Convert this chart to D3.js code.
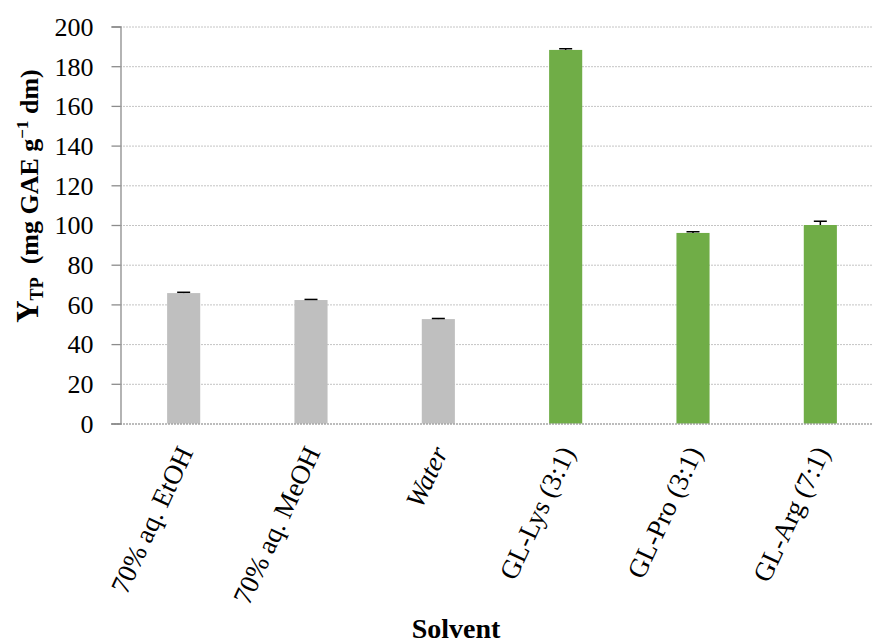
<!DOCTYPE html>
<html>
<head>
<meta charset="utf-8">
<script src="https://cdn.jsdelivr.net/npm/d3@7"></script>
<style>
  html, body { margin: 0; padding: 0; background: #fff; }
  svg { display: block; }
  text { font-family: "Liberation Serif", "Times New Roman", serif; fill: #000; }
</style>
</head>
<body>
<svg id="chart" width="872" height="644"></svg>
<script>
// Total phenolic yield by extraction solvent
const solvents = ["70% aq. EtOH", "70% aq. MeOH", "Water", "GL-Lys (3:1)", "GL-Pro (3:1)", "GL-Arg (7:1)"];
const yieldTP = [65.7, 62.2, 52.6, 188.2, 96.0, 100.0];
const yieldErr = [0.4, 0.3, 0.3, 0.6, 0.6, 1.9];
const solventGroup = ["conventional", "conventional", "conventional", "deep", "deep", "deep"];
const yTicks = [0, 20, 40, 60, 80, 100, 120, 140, 160, 180, 200];

const groupColor = { conventional: "#bfbfbf", deep: "#70ad47" };

const svg = d3.select("#chart");
const plotL = 120, plotR = 884, plotT = 26.5, plotB = 423.5;

const x = d3.scaleBand().domain(solvents).range([plotL, plotR]).paddingInner(0.74).paddingOuter(0.37);
const y = d3.scaleLinear().domain([0, 200]).range([plotB, plotT]);

// Horizontal dotted gridlines
svg.append("g")
  .selectAll("line")
  .data(yTicks.filter(d => d > 0))
  .join("line")
  .attr("x1", plotL).attr("x2", plotR)
  .attr("y1", d => y(d) + 0.5).attr("y2", d => y(d) + 0.5)
  .attr("stroke", "#c4c4c4")
  .attr("stroke-width", 1)
  .attr("stroke-dasharray", "2,1");

// Bars
svg.append("g")
  .selectAll("rect")
  .data(solvents)
  .join("rect")
  .attr("x", d => x(d))
  .attr("width", x.bandwidth())
  .attr("y", (d, i) => y(yieldTP[i]))
  .attr("height", (d, i) => y(0) - y(yieldTP[i]))
  .attr("fill", (d, i) => groupColor[solventGroup[i]]);

// Error bars (upper)
const eb = svg.append("g").attr("stroke", "#000").attr("stroke-width", 1.5);
solvents.forEach((s, i) => {
  const cx = x(s) + x.bandwidth() / 2;
  eb.append("line")
    .attr("x1", cx).attr("x2", cx)
    .attr("y1", y(yieldTP[i])).attr("y2", y(yieldTP[i] + yieldErr[i]));
  eb.append("line")
    .attr("x1", cx - 6.5).attr("x2", cx + 6.5)
    .attr("y1", y(yieldTP[i] + yieldErr[i])).attr("y2", y(yieldTP[i] + yieldErr[i]));
});

// Baseline (category axis)
svg.append("line")
  .attr("x1", plotL - 9).attr("x2", plotR)
  .attr("y1", y(0) + 0.5).attr("y2", y(0) + 0.5)
  .attr("stroke", "#7a7a7a")
  .attr("stroke-width", 1.2)
  .attr("stroke-dasharray", "2,1");

// Value axis
const yAxis = svg.append("g")
  .attr("transform", `translate(${plotL + 0.5},0)`)
  .call(d3.axisLeft(y).tickValues(yTicks).tickSize(9).tickPadding(18).tickFormat(d3.format("d")));
yAxis.select(".domain").attr("stroke", "#8c8c8c").attr("stroke-width", 1.3);
yAxis.selectAll(".tick line").attr("stroke", "#8c8c8c").attr("stroke-width", 1.3);
yAxis.selectAll(".tick text")
  .attr("font-size", 26)
  .attr("font-family", "Liberation Serif, serif")
  .attr("fill", "#000")
  .attr("dy", "0.34em");

// Category labels, rotated
svg.append("g")
  .selectAll("text")
  .data(solvents)
  .join("text")
  .attr("transform", d => `translate(${x(d) + x.bandwidth() / 2 + 10},452) rotate(-65)`)
  .attr("text-anchor", "end")
  .attr("font-size", 27)
  .style("font-style", d => d === "Water" ? "italic" : "normal")
  .text(d => d);

// Axis titles
svg.append("text")
  .attr("x", 456).attr("y", 638)
  .attr("text-anchor", "middle")
  .attr("font-size", 28)
  .attr("font-weight", "bold")
  .text("Solvent");

const yt = svg.append("text")
  .attr("transform", "translate(38,196) rotate(-90)")
  .attr("text-anchor", "middle")
  .attr("font-size", 26)
  .attr("font-weight", "bold");
yt.append("tspan").attr("font-size", 31).text("Y");
yt.append("tspan").attr("font-size", 18).attr("dy", 5).text("TP");
yt.append("tspan").attr("dy", -5).text("\u00a0 (mg GAE g");
yt.append("tspan").attr("font-size", 17).attr("dy", -10).text("\u22121");
yt.append("tspan").attr("dy", 10).text(" dm)");
</script>
</body>
</html>
